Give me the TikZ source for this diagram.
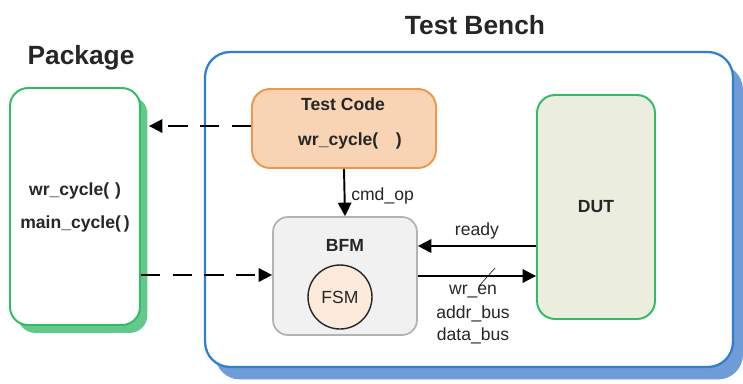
\documentclass[tikz,border=0pt]{standalone}
\usepackage{fontspec}
\setmainfont{Liberation Sans}
\usepackage{tikz}
\usetikzlibrary{math}
\usetikzlibrary{arrows.meta}
\usetikzlibrary{shadows}
\usetikzlibrary{calc}

\definecolor{txtgray}{HTML}{262626}
\definecolor{benchblue}{HTML}{2F7FD0}
\definecolor{benchshadow}{HTML}{6F9BD9}
\definecolor{pkggreen}{HTML}{2EBD63}
\definecolor{pkgshadow}{HTML}{62C98A}
\definecolor{codeline}{HTML}{F0954A}
\definecolor{codefill}{HTML}{F8D4B4}
\definecolor{bfmline}{HTML}{B3B3B3}
\definecolor{bfmfill}{HTML}{F1F1F1}
\definecolor{fsmfill}{HTML}{FDEADB}
\definecolor{dutfill}{HTML}{EBEEDF}

\tikzset{
  boxtext/.style={font=\fontsize{10}{12}\selectfont\bfseries},
  titletext/.style={font=\fontsize{15}{18}\selectfont\bfseries},
  sigarrow/.style={line width=1.1pt, -{Triangle[length=0.27cm, width=0.27cm]}},
  dasharrow/.style={sigarrow, dash pattern=on 11pt off 7pt},
}

\begin{document}
\begin{tikzpicture}[x=0.02cm, y=-0.02cm, font=\fontsize{10}{12}\selectfont, text=txtgray]
%\draw[red] (0,0) rectangle (743,383);

\tikzmath{
\upy = 126;
\downy = 275;
\readyy = 246;
\busy = 276;
}

\useasboundingbox (0,0) rectangle (743,383);

%test bench
\node[draw=benchblue, line width=1.3pt, fill=white, rounded corners=0.5cm, minimum width=10.56cm, minimum height=6.3cm, general shadow={fill=benchshadow, shadow xshift=0.2cm, shadow yshift=-0.25cm}] (bench) at (469,209.5) {};
\node[titletext] (benchtitle) at (475,25) {Test Bench};

%package
\node[draw=pkggreen, line width=1.1pt, fill=white, rounded corners=0.36cm, minimum width=2.6cm, minimum height=4.74cm, general shadow={fill=pkgshadow, shadow xshift=0.15cm, shadow yshift=-0.16cm}] (pkg) at (75,206.5) {};
\node[titletext] (pkgtitle) at (81,58) {Package};
\node[boxtext] (pkgwr) at (75,191) {wr\_cycle(\,\,)};
\node[boxtext] (pkgmain) at (75,224) {main\_cycle(\,)};

%test code
\node[draw=codeline, line width=1.1pt, fill=codefill, rounded corners=0.36cm, minimum width=3.68cm, minimum height=1.58cm] (tc) at (344,128.5) {};
\node[boxtext] (tctitle) at (343,104) {Test Code};
\node[boxtext] (tcwr) at (350,141) {wr\_cycle(\quad)};

%bfm
\node[draw=bfmline, line width=1pt, fill=bfmfill, rounded corners=0.3cm, minimum width=2.88cm, minimum height=2.36cm] (bfm) at (345,276) {};
\node[boxtext] (bfmtitle) at (345,245) {BFM};
\node[draw=txtgray, line width=0.8pt, fill=fsmfill, circle, minimum size=1.28cm] (fsm) at (340,297) {FSM};

%dut
\node[draw=pkggreen, line width=1.1pt, fill=dutfill, rounded corners=0.36cm, minimum width=2.36cm, minimum height=4.48cm] (dut) at (596,207) {};
\node[boxtext] (duttitle) at (596,207) {DUT};

%connections
\draw[sigarrow] (tc.south) -- (bfm.north) node[midway, right, yshift=-2pt] {cmd\_op};
\draw[sigarrow] (dut.west |- 0,\readyy) -- (bfm.east |- 0,\readyy) node[midway, above] {ready};
\draw[sigarrow] (bfm.east |- 0,\busy) -- (dut.west |- 0,\busy);
\coordinate (slash) at (487,277);
\draw[thin, txtgray] (slash) +(-8,9) -- +(8,-9);
\node[] (wren) at (473,292) {wr\_en};
\node[] (addr) at (473,314) {addr\_bus};
\node[] (data) at (473,336) {data\_bus};

\draw[dasharrow] (tc.west |- 0,\upy) -- ($(pkg.east |- 0,\upy)+(8,0)$);
\draw[dasharrow] (pkg.east |- 0,\downy) -- (bfm.west |- 0,\downy);

\end{tikzpicture}
\end{document}
